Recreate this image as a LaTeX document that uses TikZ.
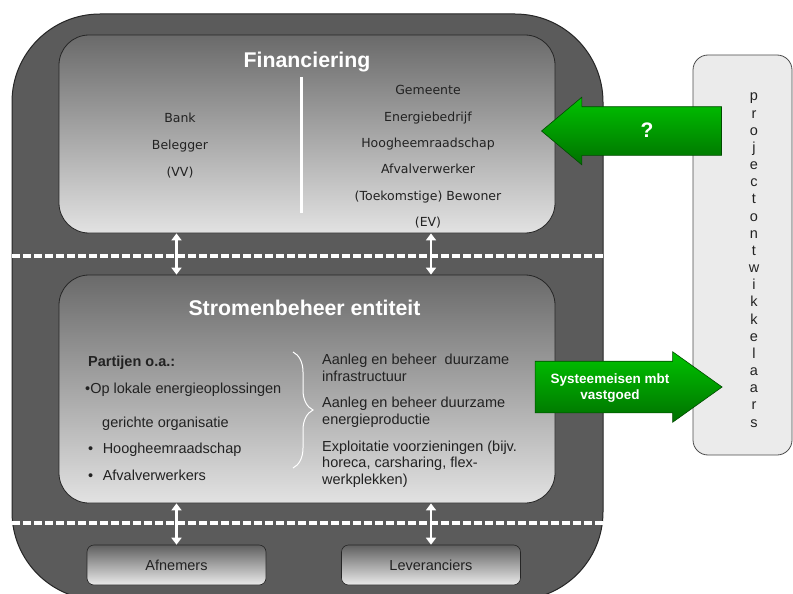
\documentclass[tikz,border=0pt]{standalone}
\usepackage{fontspec}
\setmainfont{Liberation Sans}
\newfontfamily\finfont{DejaVu Sans}
\usepackage{tikz}
\usetikzlibrary{arrows.meta}
\usetikzlibrary{shapes.arrows}
\usetikzlibrary{decorations.pathreplacing}
\usetikzlibrary{positioning}
\definecolor{outergray}{HTML}{5B5B5B}
\definecolor{panetop}{HTML}{6A6A6A}
\definecolor{panebot}{HTML}{E2E2E2}
\definecolor{greentop}{HTML}{00C400}
\definecolor{greenbot}{HTML}{007000}
\definecolor{greenedge}{HTML}{004A00}
\definecolor{textgray}{HTML}{222222}
\tikzset{outerbox/.style={draw=black!85,line width=1pt,fill=outergray,rounded corners=88pt}}
\tikzset{panel/.style={draw=black!85,line width=0.8pt,rounded corners=30pt,top color=panetop,bottom color=panebot}}
\tikzset{smallbox/.style={draw=black!85,line width=0.6pt,rounded corners=7pt,top color=panetop!90!black,bottom color=panebot!70!white,minimum width=179pt,minimum height=40pt}}
\tikzset{sidebox/.style={draw=black!70,line width=0.8pt,rounded corners=15pt,fill=black!8,minimum width=99pt,minimum height=400pt}}
\tikzset{greenarrow/.style={single arrow,draw=greenedge,line width=0.6pt,top color=greentop,bottom color=greenbot,single arrow head indent=0pt,inner xsep=0pt,single arrow head extend=9.5pt}}
\tikzset{sepline/.style={white,line width=3.8pt,dash pattern=on 8pt off 3pt}}
\tikzset{dblarrow/.style={white,line width=2.6pt,{Triangle[width=10pt,length=7pt]}-{Triangle[width=10pt,length=7pt]}}}
\tikzset{paneltitle/.style={text=white,anchor=base,font=\bfseries\fontsize{21.3}{24}\selectfont}}
\tikzset{finlist/.style={text=textgray,anchor=base,inner sep=0pt,font=\finfont\fontsize{12.5}{15}\selectfont}}
\tikzset{bodytext/.style={text=textgray,anchor=base west,inner sep=0pt,font=\fontsize{14.5}{17.4}\selectfont}}
\tikzset{arrowtext/.style={text=white,anchor=base,inner sep=0pt,font=\bfseries\fontsize{13.5}{16}\selectfont}}
\begin{document}
\begin{tikzpicture}[x=1pt,y=-1pt]
\useasboundingbox (0,0) rectangle (793,594);
% outer frame and panels
\node (outer) at (307.5,307) [outerbox,minimum width=591pt,minimum height=586pt] {};
\node (fin) at (307,134) [panel,minimum width=496pt,minimum height=198pt] {};
\node (strom) at (307,389) [panel,minimum width=496pt,minimum height=228pt] {};
\node (afn) at (176.5,565) [smallbox] {};
\node (lev) at (431,565) [smallbox] {};
\node at (176.5,570) [bodytext,anchor=base] {Afnemers};
\node at (431,570) [bodytext,anchor=base] {Leveranciers};

% separators
\coordinate (sepL1) at (12,256);
\coordinate (sepR1) at (603,256);
\coordinate (sepL2) at (12,523);
\coordinate (sepR2) at (603,523);
\draw[sepline] (sepL1) -- (sepR1);
\draw[sepline] (sepL2) -- (sepR2);

% Financiering
\node (fintitle) at (307,68) [paneltitle] {Financiering};
\coordinate (splitT) at (301,77);
\coordinate (splitB) at (301,213);
\draw[white,line width=3pt] (splitT) -- (splitB);
\foreach \t [count=\n] in {Bank,Belegger,(VV)}
{
	\node (finL\n) at (180,122+27*\n-27) [finlist] {\t};
}
\foreach \t [count=\n] in {Gemeente,Energiebedrijf,Hoogheemraadschap,Afvalverwerker,(Toekomstige) Bewoner,(EV)}
{
	\node (finR\n) at (428,95+26.3*\n-26.3) [finlist] {\t};
}

% Stromenbeheer entiteit
\node (stromtitle) at (304.5,315) [paneltitle] {Stromenbeheer entiteit};
\node (part) at (88,366) [bodytext,font=\bfseries\fontsize{14.5}{17.4}\selectfont] {Partijen o.a.:};
\node (partA) at (85,393) [bodytext] {\textbullet Op lokale energieoplossingen};
\node (partB) at (102,427) [bodytext] {gerichte organisatie};
\node (partC) at (88,453) [bodytext] {\textbullet\hspace{9.5pt}Hoogheemraadschap};
\node (partD) at (88,480) [bodytext] {\textbullet\hspace{9.5pt}Afvalverwerkers};
\coordinate (braceT) at (293,352);
\coordinate (braceB) at (293,468);
\draw[white,line width=1pt,decorate,decoration={brace,amplitude=20pt}] (braceT) -- (braceB);
\foreach \t / \y in {Aanleg en beheer\ \ duurzame/364,infrastructuur/381,Aanleg en beheer duurzame/407,energieproductie/424,Exploitatie voorzieningen (bijv./451,{horeca, carsharing, flex-}/467,werkplekken)/484}
{
	\node at (322,\y) [bodytext] {\t};
}

% links between the layers
\draw[dblarrow] (fin.south -| afn) -- (strom.north -| afn);
\draw[dblarrow] (fin.south -| lev) -- (strom.north -| lev);
\draw[dblarrow] (strom.south -| afn) -- (afn.north);
\draw[dblarrow] (strom.south -| lev) -- (lev.north);

% projectontwikkelaars
\node (proj) at (742.5,255) [sidebox] {};
\foreach \c [count=\n] in {p,r,o,j,e,c,t,o,n,t,w,i,k,k,e,l,a,a,r,s}
{
	\node (P\n) at (754,101+17.16*\n-17.16) [bodytext,anchor=base] {\c};
}
\node (askarrow) at (646,131) [greenarrow,shape border rotate=180,minimum height=180pt,inner ysep=24pt,single arrow tip angle=80] {};
\node at (647,137) [arrowtext,font=\bfseries\fontsize{21}{24}\selectfont] {?};
\node (eisarrow) at (610.5,387) [greenarrow,minimum height=187pt,inner ysep=25.5pt,single arrow tip angle=71] {};
\node at (610,383) [arrowtext] {Systeemeisen mbt};
\node at (610,399) [arrowtext] {vastgoed};
\end{tikzpicture}
\end{document}
